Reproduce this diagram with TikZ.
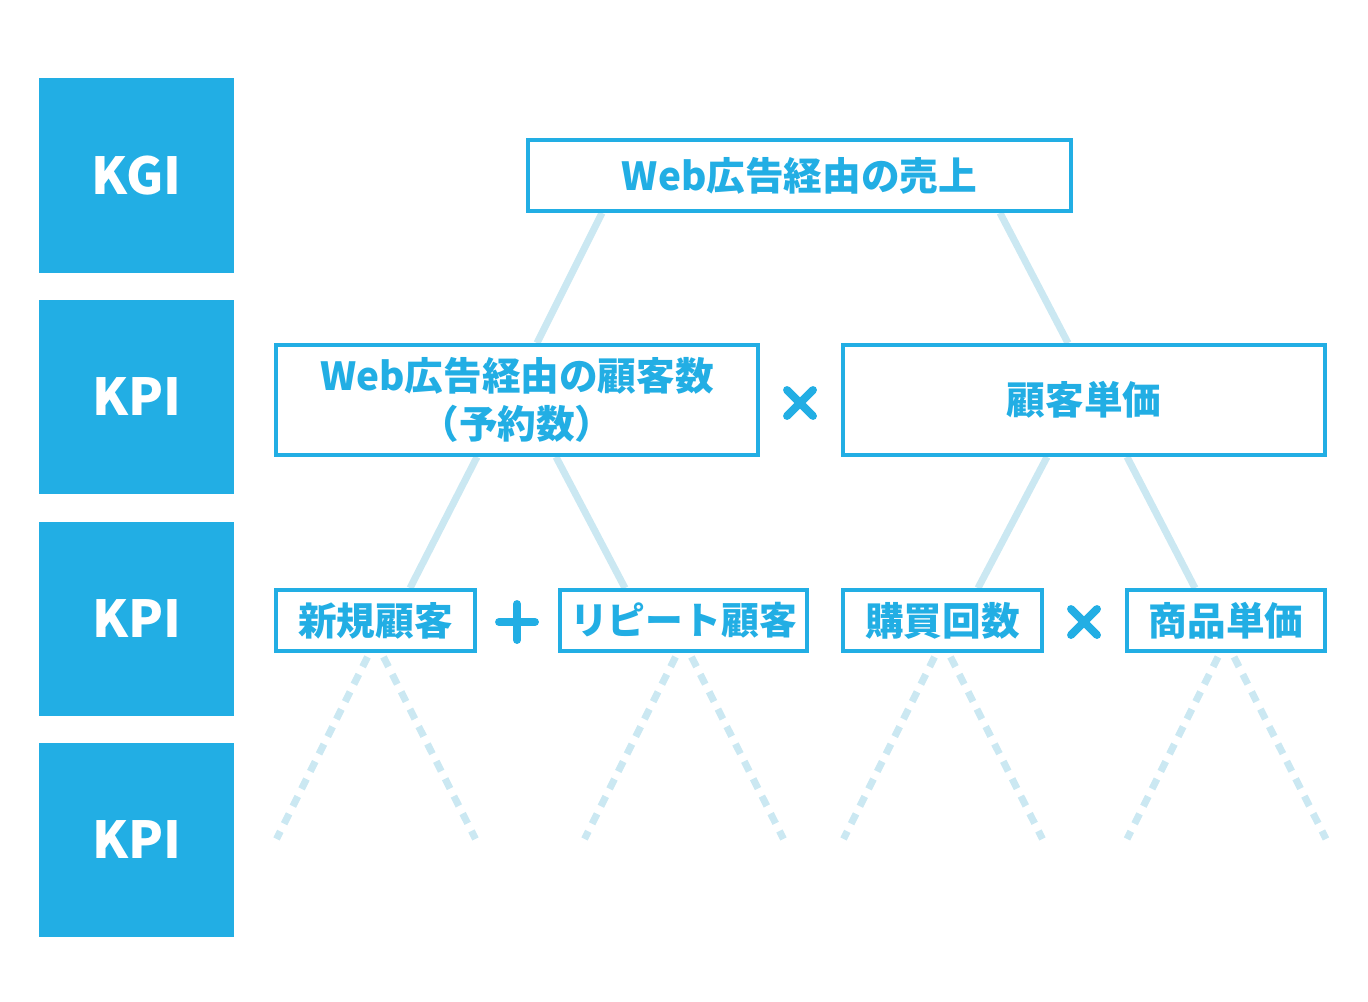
\documentclass[tikz,border=0pt]{standalone}
\usepackage{fontspec}
\setmainfont{Noto Sans CJK JP}
\usetikzlibrary{calc,backgrounds}
\definecolor{kblue}{HTML}{22AEE4}
\definecolor{klight}{HTML}{CBE8F2}
\begin{document}
\begin{tikzpicture}[x=0.02cm,y=-0.02cm,
  level/.style={fill=kblue,text=white,minimum width=3.9cm,minimum height=3.9cm,inner sep=0,font=\fontsize{29}{29}\selectfont\bfseries},
  item/.style={draw=kblue,line width=2.2pt,fill=white,text=kblue,inner sep=0,align=center,font=\fontsize{22}{27}\selectfont\bfseries},
  link/.style={draw=klight,line width=4pt},
  more/.style={draw=klight,line width=4pt,dash pattern=on 0.22cm off 0.17cm},
  opsign/.style={draw=kblue,line width=4.5pt,line cap=round}]
\useasboundingbox (0,0) rectangle (1368,1001);
%left column
\node[level] (kgi) at (136.5,175.5) {KGI};
\node[level] (kpia) at (136.5,397) {KPI};
\node[level] (kpib) at (136.5,619) {KPI};
\node[level] (kpic) at (136.5,840) {KPI};
%tree
\node[item,minimum width=10.86cm,minimum height=1.42cm] (top) at (799.5,175.5) {Web広告経由の売上};
\node[item,minimum width=9.64cm,minimum height=2.2cm] (cust) at (517,400) {Web広告経由の顧客数\\（予約数）};
\node[item,minimum width=9.64cm,minimum height=2.2cm] (price) at (1084,400) {顧客単価};
\node[item,minimum width=3.98cm,minimum height=1.22cm] (new) at (375.5,620.5) {新規顧客};
\node[item,minimum width=4.94cm,minimum height=1.22cm,font=\fontsize{21.5}{27}\selectfont\bfseries] (rep) at (683.5,620.5) {リピート顧客};
\node[item,minimum width=3.98cm,minimum height=1.22cm] (freq) at (942.5,620.5) {購買回数};
\node[item,minimum width=3.96cm,minimum height=1.22cm] (unit) at (1226,620.5) {商品単価};
%lines behind the boxes
\begin{scope}[on background layer]
\draw[link] ($(top.south)+(-197.5,0)$) -- ($(cust.north)+(20,0)$);
\draw[link] ($(top.south)+(200.5,0)$) -- ($(price.north)+(-16,0)$);
\draw[link] ($(cust.south)+(-40,0)$) -- ($(new.north)+(34.5,0)$);
\draw[link] ($(cust.south)+(39,0)$) -- ($(rep.north)+(-58.5,0)$);
\draw[link] ($(price.south)+(-37,0)$) -- ($(freq.north)+(35.5,0)$);
\draw[link] ($(price.south)+(43,0)$) -- ($(unit.north)+(-31,0)$);
\foreach \b in {new,rep,freq,unit}{
  \draw[more] ($(\b.south)+(-8,4)$) -- ($(\b.south)+(-99,186)$);
  \draw[more] ($(\b.south)+(8,4)$) -- ($(\b.south)+(100,186)$);
}
\end{scope}
%operators
\coordinate (opa) at (800,403);
\coordinate (opb) at (517,622);
\coordinate (opc) at (1084,622);
\draw[opsign] ($(opa)+(-13,-13)$) -- ($(opa)+(13,13)$) ($(opa)+(-13,13)$) -- ($(opa)+(13,-13)$);
\draw[opsign] ($(opb)+(-18,0)$) -- ($(opb)+(18,0)$) ($(opb)+(0,-18)$) -- ($(opb)+(0,18)$);
\draw[opsign] ($(opc)+(-13,-13)$) -- ($(opc)+(13,13)$) ($(opc)+(-13,13)$) -- ($(opc)+(13,-13)$);
\end{tikzpicture}
\end{document}
